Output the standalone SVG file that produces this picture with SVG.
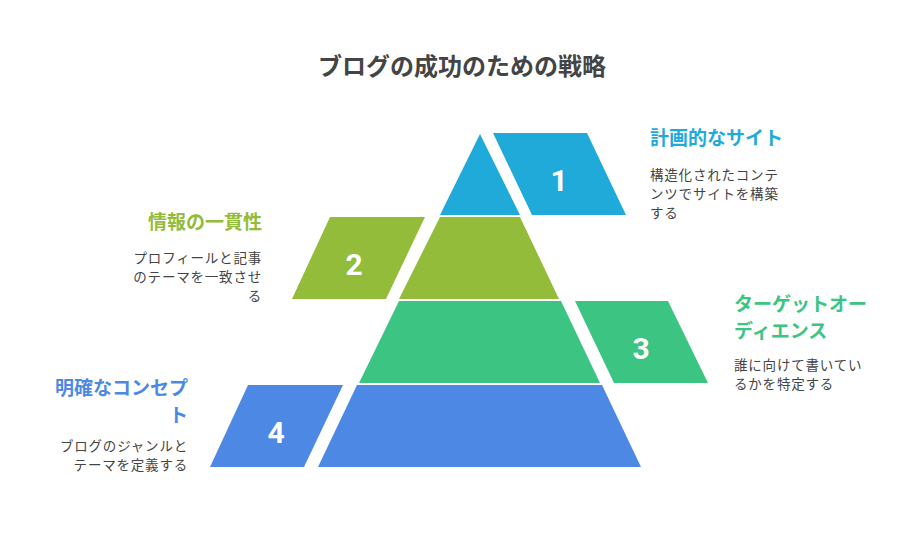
<svg xmlns="http://www.w3.org/2000/svg" width="924" height="540" viewBox="0 0 924 540">
<style>
.t{font-family:"Noto Sans CJK JP","Noto Sans",sans-serif;font-weight:bold;font-size:19px}
.d{font-family:"Noto Sans CJK JP","Noto Sans",sans-serif;font-size:13.5px;letter-spacing:0.8px;fill:#444}
.n{font-family:Roboto,"Liberation Sans",sans-serif;font-weight:bold;font-size:30px;fill:#fff;text-anchor:middle}
.r{text-anchor:end}
</style>
<rect width="924" height="540" fill="#fff"/>
<text x="462" y="75" text-anchor="middle" font-family="'Noto Sans CJK JP',sans-serif" font-weight="bold" font-size="24" fill="#444">ブログの成功のための戦略</text>
<g id="node1">
<polygon points="480,134 440,215 520,215" fill="#1FAAD9"/>
<polygon points="493,133 587,133 626,215 532,215" fill="#1FAAD9"/>
<text class="n" x="559" y="191">1</text>
<text class="t" x="650" y="145" fill="#1FAAD9">計画的なサイト</text>
<text class="d" x="650" y="180">構造化されたコンテ</text>
<text class="d" x="650" y="199">ンツでサイトを構築</text>
<text class="d" x="650" y="218">する</text>
</g>
<g id="node2">
<polygon points="440,217 520,217 559,299 399,299" fill="#93BC3A"/>
<polygon points="330,217 425,217 386,299 292,299" fill="#93BC3A"/>
<text class="n" x="354" y="275">2</text>
<text class="t r" x="262" y="229" fill="#93BC3A">情報の一貫性</text>
<text class="d r" x="262" y="263">プロフィールと記事</text>
<text class="d r" x="262" y="282">のテーマを一致させ</text>
<text class="d r" x="262" y="301">る</text>
</g>
<g id="node3">
<polygon points="399,301 561,301 600,383 359,383" fill="#3CC482"/>
<polygon points="575,301 668,301 708,383 614,383" fill="#3CC482"/>
<text class="n" x="641" y="359">3</text>
<text class="t" x="734" y="311" fill="#3CC482">ターゲットオー</text>
<text class="t" x="734" y="338" fill="#3CC482">ディエンス</text>
<text class="d" x="734" y="370">誰に向けて書いてい</text>
<text class="d" x="734" y="389">るかを特定する</text>
</g>
<g id="node4">
<polygon points="357,385 602,385 641,467 318,467" fill="#4E88E5"/>
<polygon points="248,385 343,385 304,467 210,467" fill="#4E88E5"/>
<text class="n" x="276" y="443">4</text>
<text class="t r" x="188" y="395" fill="#4E88E5">明確なコンセプ</text>
<text class="t r" x="188" y="422" fill="#4E88E5">ト</text>
<text class="d r" x="188" y="451">ブログのジャンルと</text>
<text class="d r" x="188" y="470">テーマを定義する</text>
</g>
<g id="connectors"/>
</svg>
